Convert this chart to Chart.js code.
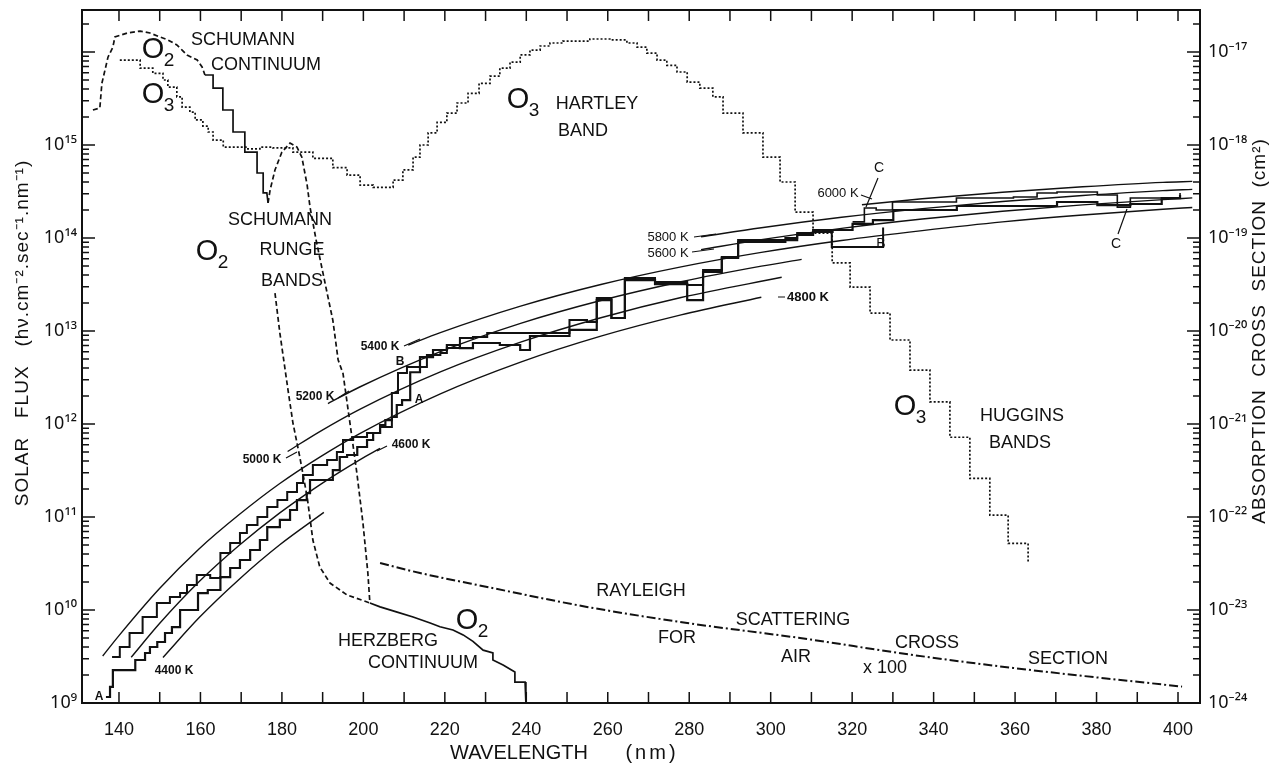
<!DOCTYPE html>
<html>
<head>
<meta charset="utf-8">
<script src="https://cdn.jsdelivr.net/npm/chart.js@4.4.1/dist/chart.umd.min.js"></script>
<style>
  html, body { margin: 0; padding: 0; background: #fff; }
  canvas { display: block; }
</style>
</head>
<body>
<canvas id="chart" width="1277" height="775"></canvas>
<script>
// axis ticks
var xTicks = [140, 160, 180, 200, 220, 240, 260, 280, 300, 320, 340, 360, 380, 400];
var fluxDecades = [1e9, 1e10, 1e11, 1e12, 1e13, 1e14, 1e15];
var crossDecades = [1e-24, 1e-23, 1e-22, 1e-21, 1e-20, 1e-19, 1e-18, 1e-17];

// solar flux, staircases A, B, C (left edge of each step, photons cm-2 s-1 nm-1)
var fluxANm = [136.8, 137.8, 138.5, 144.0, 146.4, 147.6, 149.4, 151.3, 153.0, 155.0, 159.4, 161.8, 164.9, 167.3, 169.7, 172.2, 174.6, 176.4, 179.5, 182.0, 183.7, 186.1, 186.9, 192.5, 194.2, 196.0, 198.5, 200.9, 202.4, 204.1, 205.4, 207.0, 208.2, 209.5, 211.5, 213.9, 217.1, 220.5, 223.7, 226.9, 233.5, 238.5, 240.9, 250.6, 257.3, 260.9, 264.2, 271.6, 279.5, 283.4, 288.0, 292.0, 303.6, 306.5, 310.4, 315.2, 320.1, 325.1, 330.1, 345.7, 370.3, 380.2, 388.3, 396.0, 400.5];
var fluxA = [1.16e9, 1.49e9, 2.26e9, 2.9e9, 3.45e9, 4.0e9, 4.53e9, 5.66e9, 6.56e9, 1.0e10, 1.52e10, 1.64e10, 2.26e10, 2.83e10, 3.45e10, 4.42e10, 5.66e10, 7.8e10, 9.3e10, 1.19e11, 1.52e11, 1.81e11, 2.5e11, 3.2e11, 4.42e11, 4.64e11, 5.66e11, 6.73e11, 8.0e11, 9.75e11, 1.1e12, 1.19e12, 1.6e12, 1.81e12, 3.6e12, 5.25e12, 6.25e12, 7.07e12, 6.56e12, 7.43e12, 7.07e12, 6.25e12, 8.84e12, 1.03e13, 2.15e13, 1.38e13, 3.53e13, 3.2e13, 2.15e13, 4.31e13, 6.1e13, 9.06e13, 9.5e13, 1.08e14, 1.16e14, 1.22e14, 1.42e14, 1.56e14, 2.0e14, 2.21e14, 2.44e14, 2.26e14, 2.32e14, 2.69e14, 2.9e14];

var fluxBNm = [138.3, 140.2, 142.6, 145.8, 149.3, 152.5, 155.0, 156.7, 159.1, 162.4, 164.9, 167.3, 169.7, 171.4, 174.0, 176.4, 178.9, 181.3, 183.7, 185.2, 187.6, 191.1, 193.5, 195.0, 197.5, 200.9, 204.1, 207.0, 208.5, 210.7, 215.6, 218.9, 220.5, 223.7, 226.9, 230.4, 250.6, 254.9, 257.3, 260.9, 264.2, 271.6, 279.5, 283.4, 288.0, 292.0, 303.6, 306.5, 310.4, 315.0, 327.6];
var fluxB = [3.12e9, 4.0e9, 5.66e9, 8.4e9, 1.19e10, 1.38e10, 1.52e10, 1.86e10, 2.38e10, 2.21e10, 4.1e10, 5.25e10, 6.73e10, 8.2e10, 1.0e11, 1.28e11, 1.52e11, 1.86e11, 2.32e11, 2.83e11, 3.62e11, 4.1e11, 5.0e11, 6.73e11, 7.25e11, 8.0e11, 9.3e11, 2.15e12, 3.53e12, 4.1e12, 5.52e12, 5.8e12, 6.56e12, 8.4e12, 8.6e12, 9.5e12, 1.31e13, 1.25e13, 2.26e13, 1.38e13, 3.72e13, 3.36e13, 3.12e13, 4.53e13, 6.25e13, 9.5e13, 1.0e14, 1.13e14, 1.22e14, 8.0e13, 1.3e14];

var fluxCNm = [320.1, 323.0, 325.9, 329.9, 345.6, 359.6, 365.4, 370.3, 380.2, 385.1, 388.3, 400.5];
var fluxC = [1.49e14, 2.1e14, 2.0e14, 2.44e14, 2.69e14, 2.76e14, 3.05e14, 3.12e14, 2.9e14, 2.15e14, 2.69e14, 3.05e14];

// black body curves
var bb4400Nm = [150.8, 159.7, 169.6, 179.4, 190.3];
var bb4400 = [3.09e9, 8.3e9, 2.16e10, 5.0e10, 1.12e11];
var bb4600Nm = [143.0, 149.9, 159.7, 169.6, 179.4, 189.3, 199.1, 204.1];
var bb4600 = [3.1e9, 7.1e9, 2.02e10, 4.99e10, 1.1e11, 2.22e11, 4.12e11, 5.47e11];
var bb4800Nm = [136.0, 140.0, 149.9, 159.7, 169.6, 179.4, 189.3, 199.1, 218.9, 238.6, 258.3, 278.0, 297.7];
var bb4800 = [3.2e9, 5.3e9, 1.69e10, 4.56e10, 1.07e11, 2.28e11, 4.41e11, 7.9e11, 2.11e12, 4.63e12, 8.8e12, 1.49e13, 2.31e13];
var bb5000Nm = [181.4, 189.3, 199.1, 218.9, 238.6, 258.3, 278.0, 302.7];
var bb5000 = [5.06e11, 8.3e11, 1.44e12, 3.64e12, 7.6e12, 1.39e13, 2.29e13, 3.78e13];
var bb5200Nm = [191.3, 199.1, 218.9, 238.6, 258.3, 278.0, 297.7, 307.6];
var bb5200 = [1.66e12, 2.5e12, 6.0e12, 1.21e13, 2.13e13, 3.39e13, 4.98e13, 5.9e13];
var bb5400Nm = [211.0, 218.9, 238.6, 258.3, 278.0, 297.7, 317.4, 337.2, 356.9, 376.6, 396.3, 403.5];
var bb5400 = [7.05e12, 9.6e12, 1.85e13, 3.16e13, 4.89e13, 7.0e13, 9.4e13, 1.2e14, 1.49e14, 1.77e14, 2.04e14, 2.13e14];
var bb5600Nm = [282.9, 297.7, 317.4, 337.2, 356.9, 376.6, 396.3, 403.5];
var bb5600 = [7.5e13, 9.6e13, 1.27e14, 1.6e14, 1.94e14, 2.27e14, 2.59e14, 2.7e14];
var bb5800Nm = [282.9, 297.7, 317.4, 337.2, 356.9, 376.6, 396.3, 403.5];
var bb5800 = [1.03e14, 1.29e14, 1.67e14, 2.07e14, 2.47e14, 2.86e14, 3.23e14, 3.33e14];
var bb6000Nm = [322.4, 337.2, 356.9, 376.6, 396.3, 403.5];
var bb6000 = [2.28e14, 2.64e14, 3.11e14, 3.56e14, 3.97e14, 4.06e14];

// O3 absorption cross section (cm2), Hartley + Huggins
var o3Nm = [140.2, 145.2, 148.3, 150.8, 152.0, 154.2, 155.5, 157.4, 158.7, 160.6, 161.9, 163.1, 165.6, 171.4, 174.6, 177.8, 182.7, 187.6, 192.5, 196.0, 199.2, 202.4, 207.3, 209.7, 212.2, 213.9, 215.9, 218.1, 220.5, 223.0, 225.7, 228.4, 231.1, 233.5, 236.0, 238.5, 240.9, 243.4, 245.8, 249.0, 255.6, 260.5, 264.7, 267.2, 269.6, 272.1, 274.5, 277.0, 279.5, 282.6, 285.8, 288.3, 293.2, 298.1, 302.3, 306.0, 310.4, 315.1, 319.5, 324.4, 329.3, 334.2, 339.1, 344.0, 348.9, 353.8, 358.3, 363.2];
var o3Cross = [8.2e-18, 6.7e-18, 5.9e-18, 5.0e-18, 4.2e-18, 3.3e-18, 2.56e-18, 2.26e-18, 1.86e-18, 1.6e-18, 1.38e-18, 1.13e-18, 9.5e-19, 9.1e-19, 9.5e-19, 9.3e-19, 8.4e-19, 7.2e-19, 5.7e-19, 4.75e-19, 3.7e-19, 3.5e-19, 4.2e-19, 5.4e-19, 7.4e-19, 1.0e-18, 1.35e-18, 1.75e-18, 2.2e-18, 2.83e-18, 3.6e-18, 4.6e-18, 5.5e-18, 6.7e-18, 7.8e-18, 9.3e-18, 1.05e-17, 1.16e-17, 1.25e-17, 1.31e-17, 1.38e-17, 1.35e-17, 1.25e-17, 1.13e-17, 9.75e-18, 8.2e-18, 7.2e-18, 6.1e-18, 4.75e-18, 4.1e-18, 3.3e-18, 2.2e-18, 1.35e-18, 7.4e-19, 4.0e-19, 1.9e-19, 1.13e-19, 5.4e-20, 2.97e-20, 1.56e-20, 8.0e-21, 3.8e-21, 1.73e-21, 7.2e-22, 2.6e-22, 1.05e-22, 5.2e-23, 3.3e-23];

// O2: Schumann continuum, Schumann-Runge bands (upper edge), Herzberg continuum
var o2Nm = [133.6, 135.3, 135.8, 137.3, 138.5, 139.0, 142.0, 145.2, 147.6, 150.1, 152.0, 154.2, 155.5, 156.7, 159.2, 160.4, 161.1, 163.1, 163.1, 165.5, 165.5, 168.0, 168.0, 170.9, 170.9, 173.9, 173.9, 175.4, 175.4, 176.3, 176.6, 177.1, 178.3, 180.0, 182.0, 183.7, 184.9, 186.2, 186.9, 188.4, 191.1, 192.5, 193.8, 195.0, 196.7, 198.4, 199.9, 201.1, 201.6, 204.1, 208.3, 212.2, 216.4, 218.8, 222.0, 224.5, 226.9, 229.4, 231.8, 231.8, 234.3, 237.2, 237.2, 239.7, 239.9];
var o2Cross = [2.38e-18, 2.5e-18, 4.6e-18, 8.8e-18, 1.13e-17, 1.45e-17, 1.6e-17, 1.68e-17, 1.6e-17, 1.45e-17, 1.35e-17, 1.19e-17, 1.05e-17, 9.3e-18, 8.2e-18, 6.9e-18, 5.66e-18, 5.66e-18, 4.1e-18, 4.1e-18, 2.38e-18, 2.38e-18, 1.38e-18, 1.38e-18, 8.4e-19, 8.4e-19, 5.0e-19, 5.0e-19, 3.05e-19, 3.05e-19, 2.38e-19, 3.28e-19, 5.4e-19, 8.4e-19, 1.05e-18, 9.5e-19, 7.4e-19, 3.7e-19, 2.15e-19, 9.5e-20, 2.56e-20, 1.31e-20, 4.9e-21, 3.5e-21, 1.03e-21, 2.97e-22, 8.6e-23, 2.5e-23, 1.19e-23, 1.08e-23, 9.5e-24, 8.4e-24, 7.25e-24, 6.6e-24, 6.1e-24, 5.4e-24, 4.6e-24, 3.7e-24, 3.45e-24, 2.9e-24, 2.56e-24, 2.15e-24, 1.68e-24, 1.68e-24, 1.0e-24];
// O2 Schumann-Runge bands, lower edge
var o2LowNm = [178.3, 179.5, 181.5, 182.7, 184.4, 186.2, 187.6, 189.3, 191.8, 196.0, 201.6];
var o2LowCross = [2.56e-20, 9.5e-21, 2.32e-21, 1.03e-21, 4.4e-22, 1.64e-22, 5.66e-23, 2.9e-23, 1.95e-23, 1.45e-23, 1.19e-23];

// Rayleigh scattering cross section of air x 100
var rayNm = [204.1, 213.9, 230.4, 254.9, 279.5, 307.2, 335.0, 359.5, 401.0];
var rayCross = [3.2e-23, 2.5e-23, 1.77e-23, 1.08e-23, 7.25e-24, 5.0e-24, 3.28e-24, 2.38e-24, 1.5e-24];

var INK = '#111';
var FONT = '"Liberation Sans", Arial, sans-serif';
var TICKFONT = '"Noto Sans", "DejaVu Sans", sans-serif';

function pts(xs, ys) {
    return xs.map(function (x, i) { return { x: x, y: ys[i] }; });
}

var SUP = { '-': '\u207B', '0': '\u2070', '1': '\u00B9', '2': '\u00B2', '3': '\u00B3', '4': '\u2074', '5': '\u2075', '6': '\u2076', '7': '\u2077', '8': '\u2078', '9': '\u2079' };
function powLabel(v) {
    var e = String(Math.round(Math.log10(v)));
    return '10' + e.split('').map(function (c) { return SUP[c]; }).join('');
}

function blackBody(xs, ys) {
    return {
        data: pts(xs, ys), yAxisID: 'y', borderColor: INK, borderWidth: 1.4,
        pointRadius: 0, cubicInterpolationMode: 'monotone'
    };
}

// text on the plot: [text, x, y, size, bold]
var notes = [
    ['SCHUMANN', 243, 40, 18], ['CONTINUUM', 266, 65, 18],
    ['HARTLEY', 597, 104, 18], ['BAND', 583, 131, 18],
    ['SCHUMANN', 280, 220, 18], ['RUNGE', 292, 250, 18], ['BANDS', 292, 281, 18],
    ['HERZBERG', 388, 641, 18], ['CONTINUUM', 423, 663, 18],
    ['RAYLEIGH', 641, 591, 18], ['FOR', 677, 638, 18], ['SCATTERING', 793, 620, 18],
    ['AIR', 796, 657, 18], ['CROSS', 927, 643, 18], ['x 100', 885, 668, 18],
    ['SECTION', 1068, 659, 18], ['HUGGINS', 1022, 416, 18], ['BANDS', 1020, 443, 18],
    ['5400 K', 380, 347, 12, true], ['B', 400, 362, 12, true], ['5200 K', 315, 397, 12, true],
    ['A', 419, 400, 12, true], ['5000 K', 262, 460, 12, true], ['4600 K', 411, 445, 12, true],
    ['4400 K', 174, 671, 12, true], ['A', 99, 697, 12, true],
    ['5800 K', 668, 237, 13], ['5600 K', 668, 253, 13], ['6000 K', 838, 193, 13],
    ['C', 879, 168, 14], ['B', 881, 244, 14], ['C', 1116, 244, 14], ['4800 K', 808, 297, 13, true]
];
// molecule labels: [atom, subscript, x, y]
var molecules = [
    ['O', '2', 153, 50], ['O', '3', 153, 95], ['O', '3', 518, 100],
    ['O', '2', 207, 252], ['O', '2', 467, 621], ['O', '3', 905, 407]
];
// short leader lines from labels to curves
var leaders = [
    [404, 346, 420, 339], [338, 398, 349, 391], [286, 458, 297, 452], [387, 446, 377, 451],
    [694, 237, 716, 234], [692, 252, 714, 249], [861, 195, 872, 199],
    [878, 178, 866, 207], [1118, 234, 1127, 209], [778, 297, 785, 297]
];

var whiteBg = {
    id: 'whiteBg',
    beforeDraw: function (chart) {
        var ctx = chart.ctx;
        ctx.save();
        ctx.fillStyle = '#fff';
        ctx.fillRect(0, 0, chart.width, chart.height);
        ctx.restore();
    }
};

var frameAndText = {
    id: 'frameAndText',
    afterDatasetsDraw: function (chart) {
        var ctx = chart.ctx, a = chart.chartArea, s = chart.scales;
        ctx.save();
        ctx.strokeStyle = INK;
        ctx.lineWidth = 2;
        ctx.strokeRect(a.left, a.top, a.right - a.left, a.bottom - a.top);

        // inward tick marks
        ctx.lineWidth = 1.5;
        ctx.beginPath();
        for (var v = 140; v <= 400; v += 10) {
            var px = s.x.getPixelForValue(v);
            ctx.moveTo(px, a.bottom); ctx.lineTo(px, a.bottom - 11);
            ctx.moveTo(px, a.top); ctx.lineTo(px, a.top + 11);
        }
        for (var e = 9; e <= 16; e++) {
            for (var m = 1; m <= 9; m++) {
                var val = m * Math.pow(10, e);
                if (val > s.y.max) break;
                var py = s.y.getPixelForValue(val);
                ctx.moveTo(a.left, py); ctx.lineTo(a.left + (m === 1 ? 13 : 7), py);
            }
        }
        for (var e2 = -24; e2 <= -17; e2++) {
            for (var m2 = 1; m2 <= 9; m2++) {
                var val2 = m2 * Math.pow(10, e2);
                if (val2 > s.y2.max) break;
                var py2 = s.y2.getPixelForValue(val2);
                ctx.moveTo(a.right, py2); ctx.lineTo(a.right - (m2 === 1 ? 13 : 7), py2);
            }
        }
        ctx.stroke();

        // leader lines
        ctx.lineWidth = 1.2;
        ctx.beginPath();
        leaders.forEach(function (l) { ctx.moveTo(l[0], l[1]); ctx.lineTo(l[2], l[3]); });
        ctx.stroke();

        ctx.fillStyle = INK;
        ctx.textAlign = 'center';
        ctx.textBaseline = 'middle';
        notes.forEach(function (n) {
            ctx.font = (n[4] ? 'bold ' : '') + n[3] + 'px ' + FONT;
            ctx.fillText(n[0], n[1], n[2]);
        });
        molecules.forEach(function (mo) {
            ctx.font = '29px ' + FONT;
            ctx.fillText(mo[0], mo[2], mo[3]);
            ctx.font = '19px ' + FONT;
            ctx.fillText(mo[1], mo[2] + 16, mo[3] + 11);
        });

        // axis titles
        ctx.font = '20px ' + FONT;
        ctx.fillText('WAVELENGTH', 519, 753);
        ctx.letterSpacing = '3px';
        ctx.fillText('(nm)', 652, 753);
        ctx.font = '19px ' + FONT;
        ctx.letterSpacing = '1px';
        ctx.save();
        ctx.translate(23, 333);
        ctx.rotate(-Math.PI / 2);
        ctx.fillText('SOLAR   FLUX   (h\u03BD.cm\u207B\u00B2.sec\u207B\u00B9.nm\u207B\u00B9)', 0, 0);
        ctx.restore();
        ctx.save();
        ctx.translate(1260, 331);
        ctx.rotate(-Math.PI / 2);
        ctx.fillText('ABSORPTION  CROSS  SECTION  (cm\u00B2)', 0, 0);
        ctx.restore();
        ctx.letterSpacing = '0px';
        ctx.restore();
    }
};

var datasets = [
    { data: pts(fluxANm, fluxA), yAxisID: 'y', stepped: 'before', borderColor: INK, borderWidth: 2.2, pointRadius: 0 },
    { data: pts(fluxBNm, fluxB), yAxisID: 'y', stepped: 'before', borderColor: INK, borderWidth: 2.0, pointRadius: 0 },
    { data: pts(fluxCNm, fluxC), yAxisID: 'y', stepped: 'before', borderColor: INK, borderWidth: 1.6, pointRadius: 0 },
    blackBody(bb4400Nm, bb4400),
    blackBody(bb4600Nm, bb4600),
    blackBody(bb4800Nm, bb4800),
    blackBody(bb5000Nm, bb5000),
    blackBody(bb5200Nm, bb5200),
    blackBody(bb5400Nm, bb5400),
    blackBody(bb5600Nm, bb5600),
    blackBody(bb5800Nm, bb5800),
    blackBody(bb6000Nm, bb6000),
    { data: pts(o3Nm, o3Cross), yAxisID: 'y2', stepped: 'before', borderColor: INK, borderWidth: 1.7, borderDash: [2, 2], pointRadius: 0 },
    {
        data: pts(o2Nm, o2Cross), yAxisID: 'y2', borderColor: INK, borderWidth: 1.7, pointRadius: 0,
        segment: {
            borderDash: function (c) {
                var x0 = c.p0.parsed.x;
                return (x0 < 161 || (x0 >= 176.6 && x0 < 201.6)) ? [5, 3] : [];
            }
        }
    },
    { data: pts(o2LowNm, o2LowCross), yAxisID: 'y2', borderColor: INK, borderWidth: 1.7, borderDash: [5, 3], pointRadius: 0 },
    { data: pts(rayNm, rayCross), yAxisID: 'y2', borderColor: INK, borderWidth: 2, borderDash: [9, 3, 2, 3], pointRadius: 0, cubicInterpolationMode: 'monotone' }
];

function noPad(sc) {
    sc.paddingTop = 0;
    sc.paddingBottom = 0;
}

new Chart(document.getElementById('chart').getContext('2d'), {
    type: 'line',
    data: { datasets: datasets },
    options: {
        responsive: false,
        animation: false,
        devicePixelRatio: 1,
        layout: { padding: { top: 10, left: 0, right: 0, bottom: 0 } },
        plugins: { legend: { display: false }, tooltip: { enabled: false } },
        elements: { line: { fill: false } },
        scales: {
            x: {
                type: 'linear', position: 'bottom', min: 130.92, max: 405.4,
                grid: { display: false, drawTicks: false }, border: { display: false },
                ticks: { font: { family: FONT, size: 18 }, color: INK, padding: 16, maxRotation: 0 },
                afterBuildTicks: function (sc) { sc.ticks = xTicks.map(function (v) { return { value: v }; }); },
                afterFit: function (sc) { sc.height = 72; }
            },
            y: {
                type: 'logarithmic', position: 'left', min: 1e9, max: 2.83e16,
                grid: { display: false, drawTicks: false }, border: { display: false },
                ticks: { font: { family: TICKFONT, size: 18 }, color: INK, padding: 5, callback: function (v) { return powLabel(v); } },
                afterBuildTicks: function (sc) { sc.ticks = fluxDecades.map(function (v) { return { value: v }; }); },
                afterFit: function (sc) { sc.width = 82; noPad(sc); }
            },
            y2: {
                type: 'logarithmic', position: 'right', min: 1e-24, max: 2.83e-17,
                grid: { display: false, drawTicks: false }, border: { display: false },
                ticks: { font: { family: TICKFONT, size: 18 }, color: INK, padding: 8, callback: function (v) { return powLabel(v); } },
                afterBuildTicks: function (sc) { sc.ticks = crossDecades.map(function (v) { return { value: v }; }); },
                afterFit: function (sc) { sc.width = 77; noPad(sc); }
            }
        }
    },
    plugins: [whiteBg, frameAndText]
});
</script>
</body>
</html>
